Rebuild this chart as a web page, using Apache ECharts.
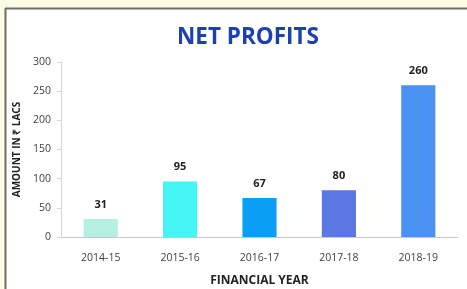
<!DOCTYPE html>
<html>
<head>
<meta charset="utf-8">
<script src="https://cdn.jsdelivr.net/npm/echarts@6/dist/echarts.min.js"></script>
<style>
  html, body { margin: 0; padding: 0; overflow: hidden; }
  #container { width: 467px; height: 289px; }
</style>
</head>
<body>
<div id="container"></div>
<script>
  var dom = document.getElementById("container");
  var myChart = echarts.init(dom);

  // data
  var years = ['2014-15', '2015-16', '2016-17', '2017-18', '2018-19'];
  var profits = [31, 95, 67, 80, 260];
  var barColors = ['#b4efe0', '#45f4f4', '#0a9ff4', '#5b78e2', '#4a92f2'];

  var option = {
      backgroundColor: '#fdfbe4',
      textStyle: { fontFamily: 'Open Sans' },
      // white panel with its dark edge
      graphic: [
          { type: 'rect', z: -10, shape: { x: 5, y: 8, width: 470, height: 290 },
            style: { fill: '#ffffff', stroke: 'transparent', lineWidth: 0 } },
          { type: 'line', z: -9, shape: { x1: 5.5, y1: 8, x2: 5.5, y2: 289 },
            style: { stroke: '#6e6e6e', lineWidth: 2 } },
          { type: 'line', z: -9, shape: { x1: 5, y1: 8.5, x2: 467, y2: 8.5 },
            style: { stroke: '#6e6e6e', lineWidth: 2 } }
      ],
      title: {
          text: 'NET PROFITS',
          left: 172,
          top: 21,
          textStyle: { color: '#1c3fb4', fontSize: 22.5, fontWeight: 'bold', fontFamily: 'Open Sans' }
      },
      grid: { left: 61, right: 9, top: 62, bottom: 52, outerBoundsMode: 'none', containLabel: false },
      xAxis: {
          type: 'category',
          data: years,
          name: 'FINANCIAL YEAR',
          nameLocation: 'middle',
          nameGap: 38,
          nameTextStyle: { color: '#222', fontSize: 12, fontWeight: 'bold' },
          axisLine: { lineStyle: { color: '#c8c8c8' } },
          axisTick: { show: false },
          axisLabel: { color: '#404040', fontSize: 10.5, margin: 16 }
      },
      yAxis: {
          type: 'value',
          min: 0, max: 300, interval: 50,
          name: 'AMOUNT IN ₹ LACS',
          nameLocation: 'middle',
          nameGap: 36,
          nameTextStyle: { color: '#222', fontSize: 10, fontWeight: 'bold' },
          axisLine: { show: true, lineStyle: { color: '#d6d6d6' } },
          axisTick: { show: true, length: 4, lineStyle: { color: '#d6d6d6' } },
          splitLine: { show: false },
          axisLabel: { color: '#404040', fontSize: 10.5, margin: 10 }
      },
      series: [{
          type: 'bar',
          data: profits.map(function (v, i) {
              return { value: v, itemStyle: { color: barColors[i] } };
          }),
          barWidth: '43%',
          label: { show: true, position: 'top', distance: 9, color: '#222', fontSize: 11, fontWeight: 'bold' }
      }]
  };

  myChart.setOption(option, true);
</script>
</body>
</html>
